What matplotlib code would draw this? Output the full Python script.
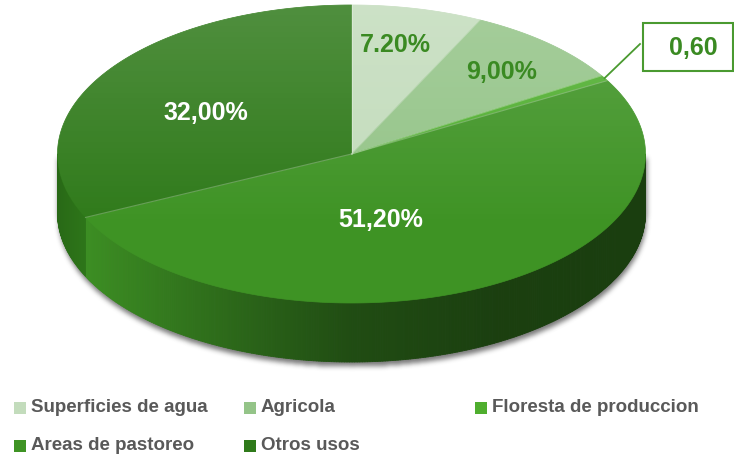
import numpy as np
import matplotlib
matplotlib.use("Agg")
import matplotlib.pyplot as plt
from matplotlib.patches import Polygon, Rectangle
from matplotlib.collections import PolyCollection
from matplotlib.colors import to_rgb

# data
categories = ["Superficies de agua", "Agricola", "Floresta de produccion",
              "Areas de pastoreo", "Otros usos"]
shares = [7.20, 9.00, 0.60, 51.20, 32.00]
labels = ["7.20%", "9,00%", "0,60", "51,20%", "32,00%"]
colors = ["#c3dcbc", "#94c488", "#4fae2e", "#3e9324", "#2f7a1a"]

plt.rcParams['font.family'] = ['Liberation Sans', 'DejaVu Sans']

W, H = 734, 458
fig = plt.figure(figsize=(W / 100, H / 100), dpi=100)
ax = fig.add_axes([0, 0, 1, 1])
ax.set_xlim(0, W)
ax.set_ylim(H, 0)
ax.axis("off")

# ellipse geometry (pixels)
cx, cy, rx, ry, depth = 351.5, 154, 294, 149, 59


def pt(theta_deg, dy=0):
    t = np.radians(theta_deg)
    return cx + rx * np.cos(t), cy - ry * np.sin(t) + dy


# soft shadow under the cylinder
yy, xx = np.mgrid[0:H, 0:W].astype(float)
sx, sy = xx - 0.5, yy - 4
inside = (((sx - cx) / rx) ** 2 + ((sy - cy - depth) / ry) ** 2 <= 1) | \
         ((np.abs(sx - cx) <= rx) & (sy >= cy) & (sy <= cy + depth))
shadow = inside.astype(float)
for _ in range(3):
    k = 2
    shadow = sum(np.roll(shadow, s, axis=0) for s in range(-k, k + 1)) / (2 * k + 1)
    shadow = sum(np.roll(shadow, s, axis=1) for s in range(-k, k + 1)) / (2 * k + 1)
shade_img = np.zeros((H, W, 4))
shade_img[..., :3] = 0.3
shade_img[..., 3] = shadow * 0.75
ax.imshow(shade_img, extent=(0, W, H, 0), zorder=0)

fracs = np.array(shares) / sum(shares)
ends = 90 - 360 * np.cumsum(fracs)
starts = np.concatenate([[90], ends[:-1]])

# side walls (front half only)
for s, e, c in zip(starts, ends, colors):
    a, b = max(e, -180), min(s, 0)
    if a >= b:
        continue
    th = np.linspace(a, b, int((b - a) * 2) + 2)
    base = np.array(to_rgb(c))
    quads, cols = [], []
    for t0, t1 in zip(th[:-1], th[1:]):
        x0, y0 = pt(t0)
        x1, y1 = pt(t1)
        quads.append([(x0, y0), (x1, y1), (x1, y1 + depth), (x0, y0 + depth)])
        u = np.cos(np.radians((t0 + t1) / 2))
        f = np.interp(u, [-1, -0.9, -0.35, 0, 0.5, 1],
                      [0.86, 0.97, 0.68, 0.52, 0.43, 0.42])
        cols.append(np.clip(base * f, 0, 1))
    ax.add_collection(PolyCollection(quads, facecolors=cols, edgecolors=cols,
                                     linewidths=0.6, zorder=2))

# top faces
for s, e, c in zip(starts, ends, colors):
    th = np.linspace(s, e, max(int(abs(s - e) * 2), 3))
    xs, ys = pt(th)
    verts = [(cx, cy)] + list(zip(xs, ys))
    ax.add_patch(Polygon(verts, closed=True, facecolor=c, edgecolor=c,
                         linewidth=0.5, zorder=3))

# light gradient on the top face
th = np.linspace(0, 360, 400)
ex, ey = pt(th)
clip = Polygon(list(zip(ex, ey)), closed=True, transform=ax.transData)
grad = np.zeros((H, W, 4))
grad[..., :3] = 1
grad[..., 3] = np.clip((230 - yy) / 225, 0, 1) * 0.16
im = ax.imshow(grad, extent=(0, W, H, 0), zorder=4)
im.set_clip_path(clip)

# thin light edges between slices
for s in starts:
    x1, y1 = pt(s)
    ax.plot([cx, x1], [cy, y1], color="white", alpha=0.25, lw=0.8, zorder=5)

# data labels
dark = "#3a8a22"
lab_kw = dict(fontsize=18, fontweight="bold", ha="center", va="center", zorder=6)
ax.text(395, 45, labels[0], color=dark, **lab_kw)
ax.text(502, 72, labels[1], color=dark, **lab_kw)
ax.text(381, 220, labels[3], color="white", **lab_kw)
ax.text(206, 113, labels[4], color="white", **lab_kw)

# callout for the tiny slice
mid = (starts[2] + ends[2]) / 2
px, py = pt(mid)
ax.plot([px, 640], [py, 44], color="#4a9a30", lw=1.3, zorder=6)
ax.add_patch(Rectangle((643, 23), 89.5, 48, facecolor="white",
                       edgecolor="#4a9a30", linewidth=1.5, zorder=7))
ax.text(693, 48, labels[2], color=dark, zorder=8,
        **{k: v for k, v in lab_kw.items() if k != "zorder"})

# legend
leg_pos = [(20, 408), (250, 408), (481, 408), (20, 446), (250, 446)]
for (lx, ly), name, c in zip(leg_pos, categories, colors):
    ax.add_patch(Rectangle((lx - 6, ly - 6), 12, 12, facecolor=c,
                           edgecolor="none", zorder=6))
    ax.text(lx + 11, ly, name, color="#595959", fontsize=13.5, fontweight="bold",
            ha="left", va="center", zorder=6)

fig.savefig("out.png", dpi=100)
